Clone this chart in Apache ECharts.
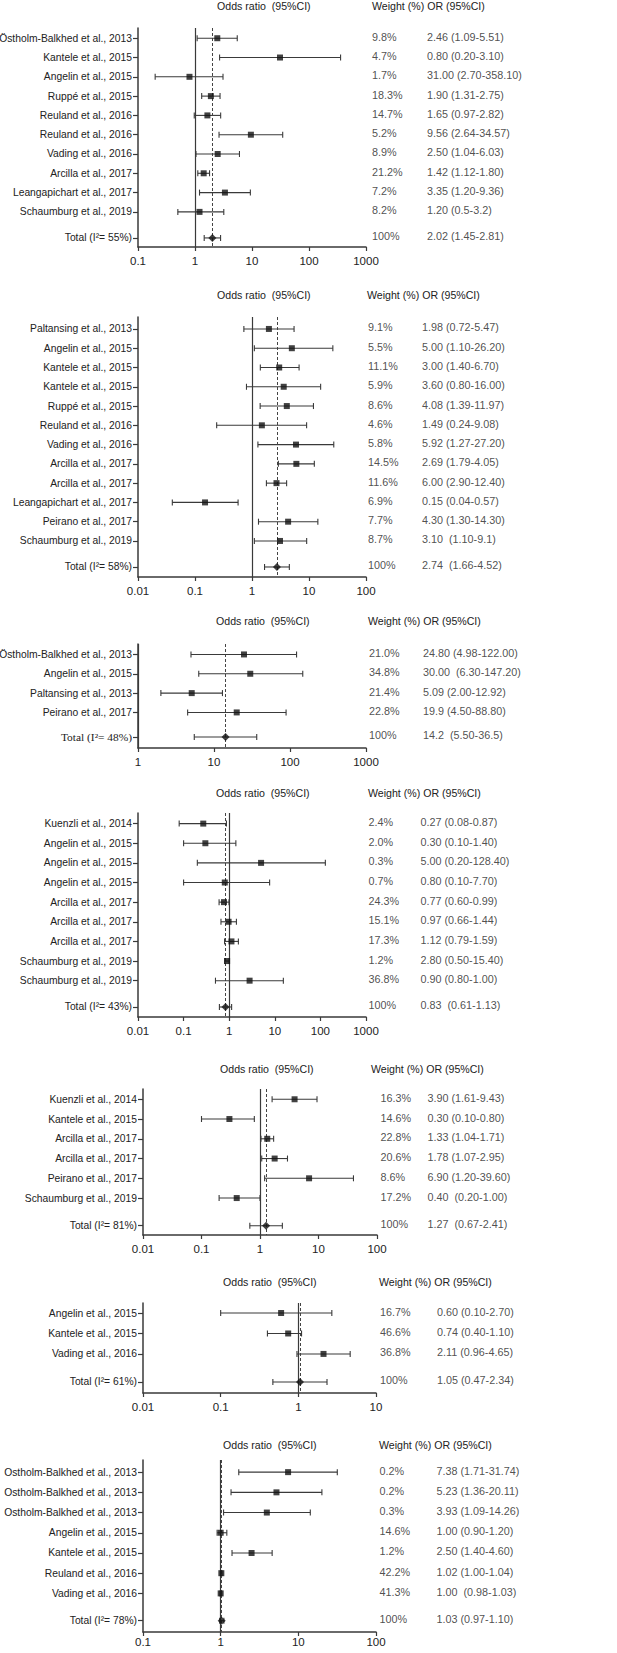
<!DOCTYPE html>
<html><head><meta charset="utf-8">
<script src="https://cdn.jsdelivr.net/npm/echarts@6/dist/echarts.min.js"></script>
<style>html,body{margin:0;padding:0;background:#fff}#c{width:617px;height:1653px}</style>
</head><body><div id="c"></div>
<script>
// ---------- Panel 1 ----------
const p1Labels = ['Östholm-Balkhed et al., 2013','Kantele et al., 2015','Angelin et al., 2015','Ruppé et al., 2015','Reuland et al., 2016','Reuland et al., 2016','Vading et al., 2016','Arcilla et al., 2017','Leangapichart et al., 2017','Schaumburg et al., 2019','Total (I²= 55%)'];
const p1Est = [2.46, 31.00, 0.80, 1.90, 1.65, 9.56, 2.50, 1.42, 3.35, 1.20, 2.02];
const p1Low = [1.09, 2.70, 0.20, 1.31, 0.97, 2.64, 1.04, 1.12, 1.20, 0.5, 1.45];
const p1High = [5.51, 358.10, 3.10, 2.75, 2.82, 34.57, 6.03, 1.80, 9.36, 3.2, 2.81];
const p1Weight = ['9.8%','4.7%','1.7%','18.3%','14.7%','5.2%','8.9%','21.2%','7.2%','8.2%','100%'];
const p1Text = ['2.46 (1.09-5.51)','0.80 (0.20-3.10)','31.00 (2.70-358.10)','1.90 (1.31-2.75)','1.65 (0.97-2.82)','9.56 (2.64-34.57)','2.50 (1.04-6.03)','1.42 (1.12-1.80)','3.35 (1.20-9.36)','1.20 (0.5-3.2)','2.02 (1.45-2.81)'];
const p1Ticks = [0.1, 1, 10, 100, 1000];

// ---------- Panel 2 ----------
const p2Labels = ['Paltansing et al., 2013','Angelin et al., 2015','Kantele et al., 2015','Kantele et al., 2015','Ruppé et al., 2015','Reuland et al., 2016','Vading et al., 2016','Arcilla et al., 2017','Arcilla et al., 2017','Leangapichart et al., 2017','Peirano et al., 2017','Schaumburg et al., 2019','Total (I²= 58%)'];
const p2Est = [1.98, 5.00, 3.00, 3.60, 4.08, 1.49, 5.92, 6.00, 2.69, 0.15, 4.30, 3.10, 2.74];
const p2Low = [0.72, 1.10, 1.40, 0.80, 1.39, 0.24, 1.27, 2.90, 1.79, 0.04, 1.30, 1.10, 1.66];
const p2High = [5.47, 26.20, 6.70, 16.00, 11.97, 9.08, 27.20, 12.40, 4.05, 0.57, 14.30, 9.1, 4.52];
const p2Weight = ['9.1%','5.5%','11.1%','5.9%','8.6%','4.6%','5.8%','14.5%','11.6%','6.9%','7.7%','8.7%','100%'];
const p2Text = ['1.98 (0.72-5.47)','5.00 (1.10-26.20)','3.00 (1.40-6.70)','3.60 (0.80-16.00)','4.08 (1.39-11.97)','1.49 (0.24-9.08)','5.92 (1.27-27.20)','2.69 (1.79-4.05)','6.00 (2.90-12.40)','0.15 (0.04-0.57)','4.30 (1.30-14.30)','3.10  (1.10-9.1)','2.74  (1.66-4.52)'];
const p2Ticks = [0.01, 0.1, 1, 10, 100];

// ---------- Panel 3 ----------
const p3Labels = ['Östholm-Balkhed et al., 2013','Angelin et al., 2015','Paltansing et al., 2013','Peirano et al., 2017','Total (I²= 48%)'];
const p3Est = [24.80, 30.00, 5.09, 19.9, 14.2];
const p3Low = [4.98, 6.30, 2.00, 4.50, 5.50];
const p3High = [122.00, 147.20, 12.92, 88.80, 36.5];
const p3Weight = ['21.0%','34.8%','21.4%','22.8%','100%'];
const p3Text = ['24.80 (4.98-122.00)','30.00  (6.30-147.20)','5.09 (2.00-12.92)','19.9 (4.50-88.80)','14.2  (5.50-36.5)'];
const p3Ticks = [1, 10, 100, 1000];

// ---------- Panel 4 ----------
const p4Labels = ['Kuenzli et al., 2014','Angelin et al., 2015','Angelin et al., 2015','Angelin et al., 2015','Arcilla et al., 2017','Arcilla et al., 2017','Arcilla et al., 2017','Schaumburg et al., 2019','Schaumburg et al., 2019','Total (I²= 43%)'];
const p4Est = [0.27, 0.30, 5.00, 0.80, 0.77, 0.97, 1.12, 0.90, 2.80, 0.83];
const p4Low = [0.08, 0.10, 0.20, 0.10, 0.60, 0.66, 0.79, 0.80, 0.50, 0.61];
const p4High = [0.87, 1.40, 128.40, 7.70, 0.99, 1.44, 1.59, 1.00, 15.40, 1.13];
const p4Weight = ['2.4%','2.0%','0.3%','0.7%','24.3%','15.1%','17.3%','1.2%','36.8%','100%'];
const p4Text = ['0.27 (0.08-0.87)','0.30 (0.10-1.40)','5.00 (0.20-128.40)','0.80 (0.10-7.70)','0.77 (0.60-0.99)','0.97 (0.66-1.44)','1.12 (0.79-1.59)','2.80 (0.50-15.40)','0.90 (0.80-1.00)','0.83  (0.61-1.13)'];
const p4Ticks = [0.01, 0.1, 1, 10, 100, 1000];

// ---------- Panel 5 ----------
const p5Labels = ['Kuenzli et al., 2014','Kantele et al., 2015','Arcilla et al., 2017','Arcilla et al., 2017','Peirano et al., 2017','Schaumburg et al., 2019','Total (I²= 81%)'];
const p5Est = [3.90, 0.30, 1.33, 1.78, 6.90, 0.40, 1.27];
const p5Low = [1.61, 0.10, 1.04, 1.07, 1.20, 0.20, 0.67];
const p5High = [9.43, 0.80, 1.71, 2.95, 39.60, 1.00, 2.41];
const p5Weight = ['16.3%','14.6%','22.8%','20.6%','8.6%','17.2%','100%'];
const p5Text = ['3.90 (1.61-9.43)','0.30 (0.10-0.80)','1.33 (1.04-1.71)','1.78 (1.07-2.95)','6.90 (1.20-39.60)','0.40  (0.20-1.00)','1.27  (0.67-2.41)'];
const p5Ticks = [0.01, 0.1, 1, 10, 100];

// ---------- Panel 6 ----------
const p6Labels = ['Angelin et al., 2015','Kantele et al., 2015','Vading et al., 2016','Total (I²= 61%)'];
const p6Est = [0.60, 0.74, 2.11, 1.05];
const p6Low = [0.10, 0.40, 0.96, 0.47];
const p6High = [2.70, 1.10, 4.65, 2.34];
const p6Weight = ['16.7%','46.6%','36.8%','100%'];
const p6Text = ['0.60 (0.10-2.70)','0.74 (0.40-1.10)','2.11 (0.96-4.65)','1.05 (0.47-2.34)'];
const p6Ticks = [0.01, 0.1, 1, 10];

// ---------- Panel 7 ----------
const p7Labels = ['Ostholm-Balkhed et al., 2013','Ostholm-Balkhed et al., 2013','Ostholm-Balkhed et al., 2013','Angelin et al., 2015','Kantele et al., 2015','Reuland et al., 2016','Vading et al., 2016','Total (I²= 78%)'];
const p7Est = [7.38, 5.23, 3.93, 1.00, 2.50, 1.02, 1.00, 1.03];
const p7Low = [1.71, 1.36, 1.09, 0.90, 1.40, 1.00, 0.98, 0.97];
const p7High = [31.74, 20.11, 14.26, 1.20, 4.60, 1.04, 1.03, 1.10];
const p7Weight = ['0.2%','0.2%','0.3%','14.6%','1.2%','42.2%','41.3%','100%'];
const p7Text = ['7.38 (1.71-31.74)','5.23 (1.36-20.11)','3.93 (1.09-14.26)','1.00 (0.90-1.20)','2.50 (1.40-4.60)','1.02 (1.00-1.04)','1.00  (0.98-1.03)','1.03 (0.97-1.10)'];
const p7Ticks = [0.1, 1, 10, 100];

const headOdds = 'Odds ratio  (95%CI)';
const headRight = 'Weight (%) OR (95%CI)';

// ---------- layout (pixels) ----------
const panels = [
  {labels:p1Labels, est:p1Est, lo:p1Low, hi:p1High, w:p1Weight, t:p1Text, ticks:p1Ticks,
   left:138, width:228, top:28, bottom:247, a:0.53, gap:1.35, b:0.47, wOff:6, wW:55, headY:6, oddsX:217, rightX:372, xm:8},
  {labels:p2Labels, est:p2Est, lo:p2Low, hi:p2High, w:p2Weight, t:p2Text, ticks:p2Ticks,
   left:138, width:228, top:317, bottom:577, a:0.62, gap:1.35, b:0.52, wOff:2, wW:54, headY:295, oddsX:217, rightX:367, xm:8},
  {labels:p3Labels, est:p3Est, lo:p3Low, hi:p3High, w:p3Weight, t:p3Text, ticks:p3Ticks,
   left:138, width:228, top:644, bottom:748, a:0.54, gap:1.27, b:0.57, wOff:3, wW:54, headY:621, oddsX:216, rightX:368, xm:8, serifTotal:true},
  {labels:p4Labels, est:p4Est, lo:p4Low, hi:p4High, w:p4Weight, t:p4Text, ticks:p4Ticks,
   left:138, width:228, top:813, bottom:1017, a:0.54, gap:1.34, b:0.51, wOff:2.5, wW:52, headY:793, oddsX:216, rightX:368, xm:8},
  {labels:p5Labels, est:p5Est, lo:p5Low, hi:p5High, w:p5Weight, t:p5Text, ticks:p5Ticks,
   left:143, width:234, top:1089, bottom:1235, a:0.52, gap:1.40, b:0.47, wOff:3.5, wW:47, headY:1069, oddsX:220, rightX:371, xm:8},
  {labels:p6Labels, est:p6Est, lo:p6Low, hi:p6High, w:p6Weight, t:p6Text, ticks:p6Ticks,
   left:143, width:233, top:1303, bottom:1393, a:0.49, gap:1.37, b:0.54, wOff:4, wW:57, headY:1282, oddsX:223, rightX:379, xm:8},
  {labels:p7Labels, est:p7Est, lo:p7Low, hi:p7High, w:p7Weight, t:p7Text, ticks:p7Ticks,
   left:143, width:233, top:1460, bottom:1632, a:0.6, gap:1.35, b:0.56, wOff:3.5, wW:57, headY:1445, oddsX:223, rightX:379, xm:4}
];

const FONT = "'Liberation Sans',Arial,Helvetica,sans-serif";
const SERIF = "'Liberation Serif','Times New Roman',serif";
const FS_LABEL = 10.3;
const FS_COL = 10.8;
const FS_HEAD = 10.6;
const FS_TICK = 11.5;
const INK = '#222';
const LINE = '#3a3a3a';

const grids = [], xAxes = [], yAxes = [], series = [], graphics = [];

panels.forEach((p, k) => {
  const n = p.labels.length;
  const pos = p.labels.map((_, i) => i < n - 1 ? i : (n - 2) + p.gap);
  const fmtY = v => {
    for (let i = 0; i < n; i++) if (Math.abs(pos[i] - v) < 1e-6) {
      return (i === n - 1 && p.serifTotal) ? '{s|' + p.labels[i] + '}' : p.labels[i];
    }
    return '';
  };
  grids.push({left:p.left, top:p.top, width:p.width, height:p.bottom - p.top,
              containLabel:false, outerBoundsMode:'none'});
  xAxes.push({
    type:'log', logBase:10, gridIndex:k,
    min:p.ticks[0], max:p.ticks[p.ticks.length - 1],
    axisLine:{show:true, onZero:false, lineStyle:{color:LINE, width:1.5}},
    axisTick:{show:true, length:4, lineStyle:{color:LINE, width:1.2}},
    minorTick:{show:false}, splitLine:{show:false},
    axisLabel:{margin:p.xm, color:INK, fontFamily:FONT, fontSize:FS_TICK,
      formatter: v => String(Number(Number(v).toPrecision(6)))}
  });
  yAxes.push({
    type:'value', gridIndex:k, inverse:true,
    min:-p.a, max:(n - 2) + p.gap + p.b,
    axisLine:{show:true, onZero:false, lineStyle:{color:LINE, width:1.5}},
    axisTick:{show:true, length:5, customValues:pos, lineStyle:{color:LINE, width:1.2}},
    splitLine:{show:false},
    axisLabel:{margin:6, color:INK, fontFamily:FONT, fontSize:FS_LABEL, customValues:pos, formatter:fmtY,
      rich:{s:{fontFamily:SERIF, fontSize:11.4, color:INK}}}
  });
  // confidence intervals
  series.push({
    type:'custom', xAxisIndex:k, yAxisIndex:k, z:2, clip:false,
    encode:{x:[0,1], y:2},
    data: p.lo.map((lo, i) => [lo, p.hi[i], pos[i]]),
    renderItem:(params, api) => {
      const y = api.value(2);
      const a = api.coord([api.value(0), y]);
      const b = api.coord([api.value(1), y]);
      const h = 3;
      const st = {stroke:LINE, lineWidth:1.1};
      return {type:'group', children:[
        {type:'line', shape:{x1:a[0], y1:a[1], x2:b[0], y2:b[1]}, style:st},
        {type:'line', shape:{x1:a[0], y1:a[1]-h, x2:a[0], y2:a[1]+h}, style:st},
        {type:'line', shape:{x1:b[0], y1:b[1]-h, x2:b[0], y2:b[1]+h}, style:st}
      ]};
    }
  });
  // study estimates (squares) + reference lines
  series.push({
    type:'scatter', xAxisIndex:k, yAxisIndex:k, z:4, symbol:'rect', symbolSize:6,
    itemStyle:{color:'#111'},
    data: p.est.slice(0, n - 1).map((e, i) => [e, pos[i]]),
    markLine:{silent:true, symbol:'none', label:{show:false}, z:1,
      data:[
        {xAxis:1, lineStyle:{type:'solid', color:LINE, width:1.2}},
        {xAxis:p.est[n - 1], lineStyle:{type:[3,2], color:'#444', width:1}}
      ]}
  });
  // pooled estimate (diamond)
  series.push({
    type:'scatter', xAxisIndex:k, yAxisIndex:k, z:4, symbol:'diamond', symbolSize:8,
    itemStyle:{color:'#111'},
    data:[[p.est[n - 1], pos[n - 1]]]
  });
  // weight & OR text columns
  series.push({
    type:'scatter', xAxisIndex:k, yAxisIndex:k, z:5, symbolSize:0, clip:false, silent:true,
    data: p.w.map((w, i) => [p.ticks[p.ticks.length - 1], pos[i]]),
    label:{show:true, position:'right', distance:p.wOff, offset:[0,-1.5], color:INK,
      fontFamily:FONT, fontSize:FS_COL,
      formatter: prm => '{w|' + p.w[prm.dataIndex] + '}{o|' + p.t[prm.dataIndex] + '}',
      rich:{w:{width:p.wW, fontFamily:FONT, fontSize:FS_COL, color:INK}, o:{fontFamily:FONT, fontSize:FS_COL, color:INK}}}
  });
  graphics.push({type:'text', x:p.oddsX, y:p.headY, style:{text:headOdds, fontFamily:FONT, fontSize:FS_HEAD, fill:INK, verticalAlign:'middle', align:'left'}});
  graphics.push({type:'text', x:p.rightX, y:p.headY, style:{text:headRight, fontFamily:FONT, fontSize:FS_HEAD, fill:INK, verticalAlign:'middle', align:'left'}});
});

const chart = echarts.init(document.getElementById('c'), null, {renderer:'svg', width:617, height:1653});
chart.setOption({
  animation:false, backgroundColor:'#fff',
  grid:grids, xAxis:xAxes, yAxis:yAxes, series:series, graphic:graphics
});
</script>
</body></html>
